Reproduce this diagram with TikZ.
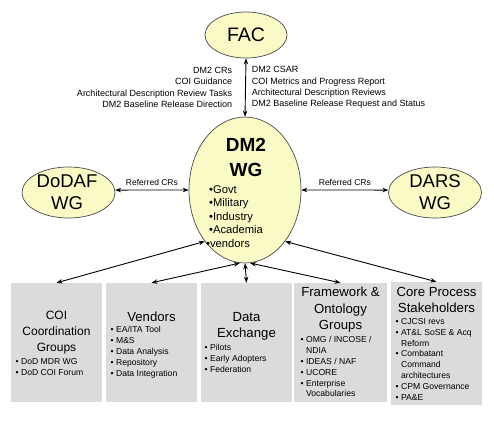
\documentclass[tikz,border=0pt]{standalone}
\usepackage{fontspec}
\setmainfont{Liberation Sans}
\usetikzlibrary{shapes.geometric,arrows.meta}
\definecolor{ellfill}{HTML}{FAFAC6}
\definecolor{ellline}{HTML}{4A4A4A}
\definecolor{boxfill}{HTML}{DBDBDB}
\newcommand{\fs}[2]{\fontsize{#1}{#2}\selectfont}
\newcommand{\bl}{\textbullet\ }
\newcommand{\hb}{\hphantom{\textbullet\ }}
\tikzset{
  ell/.style={ellipse, draw=ellline, line width=0.7pt, fill=ellfill, inner sep=0pt},
  elltext/.style={font=\fs{18.5}{22}, align=center, inner sep=0pt},
  grpbox/.style={rectangle, fill=boxfill, inner sep=0pt, minimum width=91pt, minimum height=119pt},
  boxtitle/.style={font=\fs{13.2}{16.5}, align=center, inner sep=0pt},
  boxlist/.style={font=\fs{8.6}{10.9}, align=left, inner sep=0pt, anchor=north west},
  conn/.style={{Stealth[length=6pt,width=4.5pt]}-{Stealth[length=6pt,width=4.5pt]}, line width=0.9pt, black},
  lbl/.style={font=\fs{9}{11.2}, inner sep=0pt},
}
\begin{document}
\begin{tikzpicture}[x=1pt,y=-1pt]
\useasboundingbox (0,0) rectangle (494,420);
% ellipses
\node[ell, minimum width=82pt, minimum height=46pt, font=\fs{19.5}{24}] (fac) at (246,35) {FAC};
\node[ell, minimum width=112pt, minimum height=146pt] (dm2) at (245,190) {};
\node[font=\bfseries\fs{19}{25}, align=center, inner sep=0pt] (dm2t) at (246,157) {DM2\\WG};
\node[font=\fs{11.2}{13.5}, align=left, inner sep=0pt, anchor=north west] (dm2l) at (209,185)
  {\textbullet Govt\\\textbullet Military\\\textbullet Industry\\\textbullet Academia\\\hspace{-3pt}\textbullet vendors};
\node[ell, minimum width=93pt, minimum height=51pt] (dodaf) at (68.5,192.5) {};
\node[elltext] (dodaft) at (67,192.5) {DoDAF\\WG};
\node[ell, minimum width=93pt, minimum height=51pt] (dars) at (435,192.5) {};
\node[elltext] (darst) at (435,192.5) {DARS\\WG};
% boxes
\node[grpbox] (coi) at (56.5,342.5) {};
\node[grpbox] (ven) at (151.5,342.5) {};
\node[grpbox] (dx) at (246.5,342.5) {};
\node[grpbox, minimum width=93pt] (fw) at (340.5,342.5) {};
\node[grpbox, minimum height=123pt] (cp) at (436.5,343.5) {};
% box texts
\node[boxtitle, font=\fs{12}{16}] (coit) at (56.5,333) {COI\\Coordination\\Groups};
\node[boxlist] (coil) at (15.5,358) {\bl DoD MDR WG\\\bl DoD COI Forum};
\node[boxtitle] (vent) at (151.5,317) {Vendors};
\node[boxlist] (venl) at (110.5,326) {\bl EA/ITA Tool\\\bl M\&S\\\bl Data Analysis\\\bl Repository\\\bl Data Integration};
\node[boxtitle] (dxt) at (246.5,326.5) {Data\\Exchange};
\node[boxlist] (dxl) at (204.5,344) {\bl Pilots\\\bl Early Adopters\\\bl Federation};
\node[boxtitle] (fwt) at (340.5,310) {Framework \&\\Ontology\\Groups};
\node[boxlist] (fwl) at (300.5,336) {\bl OMG / INCOSE /\\\hb NDIA\\\bl IDEAS / NAF\\\bl UCORE\\\bl Enterprise\\\hb Vocabularies};
\node[boxtitle] (cpt) at (436.5,300) {Core Process\\Stakeholders};
\node[boxlist] (cpl) at (395.5,318) {\bl CJCSI revs\\\bl AT\&L SoSE \& Acq\\\hb Reform\\\bl Combatant\\\hb Command\\\hb architectures\\\bl CPM Governance\\\bl PA\&E};
% connectors
\draw[conn] (fac.south) -- (dm2.north)
  node[midway, lbl, anchor=east, align=right, xshift=-13pt] (facl) {DM2 CRs\\COI Guidance\\Architectural Description Review Tasks\\DM2 Baseline Release Direction}
  node[midway, lbl, anchor=west, align=left, xshift=6pt] (facr) {DM2 CSAR\\COI Metrics and Progress Report\\Architectural Description Reviews\\DM2 Baseline Release Request and Status};
\draw[conn] (dodaf.3) -- (dm2.west) node[midway, lbl, font=\fs{8.5}{9}, above=4pt] (rl) {Referred CRs};
\draw[conn] (dars.177) -- (dm2.east) node[midway, lbl, font=\fs{8.5}{9}, above=4pt] (rr) {Referred CRs};
\draw[conn] (dm2.232) -- (coi.north);
\draw[conn] (dm2.266) -- (ven.north);
\draw[conn] (dm2.south) -- (dx.north);
\draw[conn] (dm2.274) -- (fw.north);
\draw[conn] (dm2.308) -- (cp.north);
\end{tikzpicture}
\end{document}
